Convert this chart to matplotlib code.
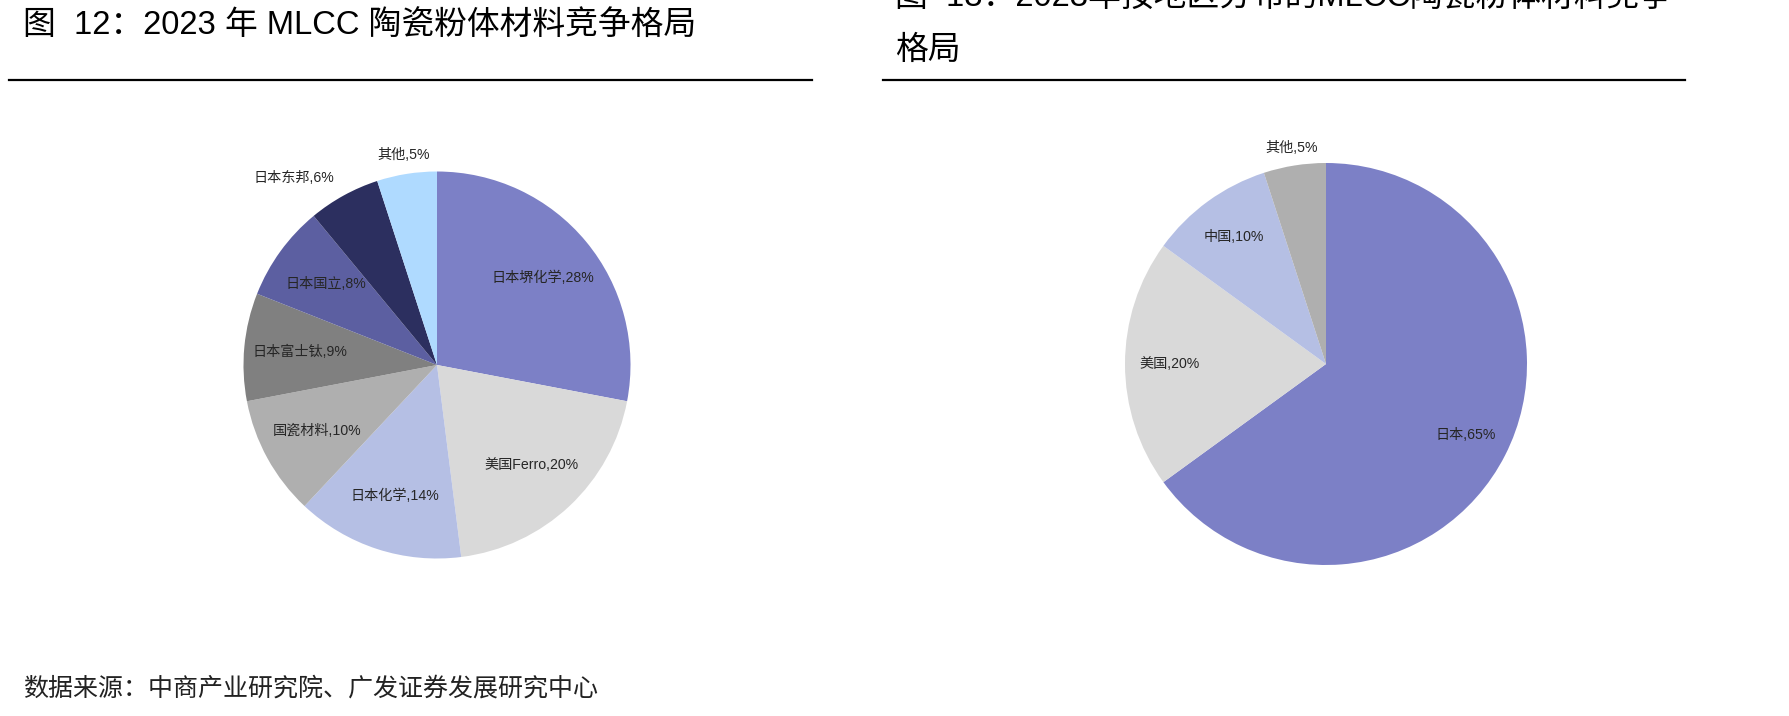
import numpy as np
import matplotlib
matplotlib.use("Agg")
import matplotlib.pyplot as plt

plt.rcParams["font.family"] = ["Liberation Sans", "Noto Sans CJK SC", "DejaVu Sans"]

# figure 12: company shares
firms = ["日本堺化学", "美国Ferro", "日本化学", "国瓷材料", "日本富士钛", "日本国立", "日本东邦", "其他"]
firm_share = [28, 20, 14, 10, 9, 8, 6, 5]
firm_colors = ["#7C80C6", "#D9D9D9", "#B5BFE4", "#AFAFAF", "#808080", "#5C5FA1", "#2C2F5F", "#AFDAFF"]

# figure 13: regional shares
regions = ["日本", "美国", "中国", "其他"]
region_share = [65, 20, 10, 5]
region_colors = ["#7C80C6", "#D9D9D9", "#B5BFE4", "#AFAFAF"]

title_left = "图  12：2023 年 MLCC 陶瓷粉体材料竞争格局"
title_right_1 = "图  13：2023年按地区分布的MLCC陶瓷粉体材料竞争"
title_right_2 = "格局"
source = "数据来源：中商产业研究院、广发证券发展研究中心"

W, H = 1790, 716
fig = plt.figure(figsize=(W / 100, H / 100), dpi=100)


def pie_axes(cx, cy, r):
    return fig.add_axes([(cx - r) / W, (H - cy - r) / H, 2 * r / W, 2 * r / H])


def draw_pie(ax, names, vals, colors, d_in, d_out):
    wedges, _ = ax.pie(vals, colors=colors, startangle=90, counterclock=False,
                       wedgeprops=dict(linewidth=0))
    ax.set_xlim(-1, 1)
    ax.set_ylim(-1, 1)
    ax.set_aspect("equal")
    ax.axis("off")
    total = sum(vals)
    for w, name, v in zip(wedges, names, vals):
        ang = np.deg2rad((w.theta1 + w.theta2) / 2)
        c, s = np.cos(ang), np.sin(ang)
        if v / total >= 0.07:
            x, y, ha = d_in * c, d_in * s, "center"
        else:
            x, y = d_out * c, d_out * s
            ha = "center" if abs(c) < 0.3 else ("right" if c < 0 else "left")
        ax.text(x, y, f"{name},{v}%", ha=ha, va="center", fontsize=10.2, color="#262626")


draw_pie(pie_axes(437, 365, 193.5), firms, firm_share, firm_colors, 0.71, 1.10)
draw_pie(pie_axes(1326, 364, 201), regions, region_share, region_colors, 0.78, 1.09)

# titles and rules (right title's first line is cut by the top edge, as in the source page)
fig.text(23 / W, 1 - 25 / H, title_left, fontsize=23.6, va="center", ha="left")
fig.text(895 / W, 1 + 3 / H, title_right_1, fontsize=23.6, va="center", ha="left")
fig.text(895 / W, 1 - 50 / H, title_right_2, fontsize=23.6, va="center", ha="left")
for x0, x1 in [(9, 812), (883, 1685)]:
    fig.add_artist(plt.Line2D([x0 / W, x1 / W], [1 - 80 / H] * 2, color="black", lw=1.6))

fig.text(23 / W, 1 - 689 / H, source, fontsize=18, va="center", ha="left", color="#222222")

fig.savefig("out.png", dpi=100, facecolor="white")
